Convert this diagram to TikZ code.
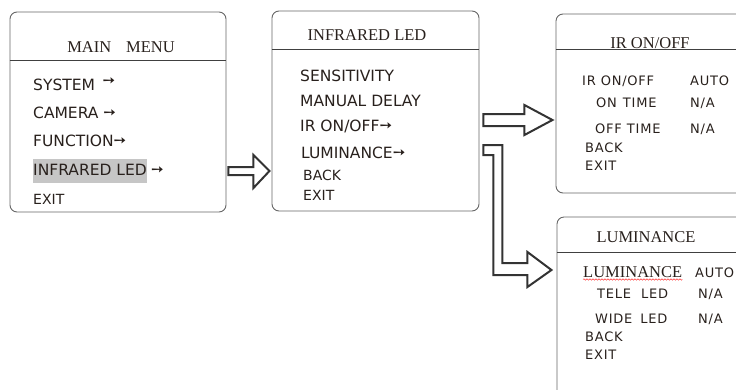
\documentclass[tikz,border=0pt]{standalone}
\usepackage{fontspec}
\setmainfont{Liberation Serif}
\setsansfont{DejaVu Sans}
\newfontfamily\symbfont{DejaVu Sans}
\usepackage{xcolor}
\usetikzlibrary{calc,decorations.pathmorphing}

\definecolor{menutext}{RGB}{40,32,28}
\newcommand{\subarrow}{\raisebox{0.5pt}{\symbfont\fontsize{15}{15}\selectfont ➙}}

\begin{document}
\begin{tikzpicture}[
  x=1pt, y=-1pt,
  menubox/.style={draw=black!60, line width=0.9pt, rounded corners=7pt},
  headline/.style={draw=black!75, line width=0.8pt},
  title/.style={font=\fontsize{16.5}{18}\selectfont, text=menutext, inner sep=0pt, anchor=base},
  item/.style={font=\sffamily\fontsize{15.5}{18}\selectfont, text=menutext, inner sep=0pt, anchor=base west},
  smallitem/.style={item, font=\sffamily\fontsize{13}{15}\selectfont\addfontfeature{LetterSpace=6}},
  exititem/.style={item, font=\sffamily\fontsize{14}{16}\selectfont},
  blockarrow/.style={draw=black!80, line width=2pt, line join=miter},
  spellmark/.style={draw=red!80, line width=0.5pt, decorate, decoration={snake, amplitude=0.7pt, segment length=3pt}},
]
\useasboundingbox (0,0) rectangle (736,389);
\clip (0,0) rectangle (736,389);

% main menu
\node[menubox, minimum width=216, minimum height=200] (mainmenu) at (118,112) {};
\draw[headline] (mainmenu.west |- 0,60) -- (mainmenu.east |- 0,60);
\node[title] (mainttl) at (121,52) {MAIN\hspace{0.9em}MENU};
\node[item] (sysitem) at (33,90) {SYSTEM\hspace{0.5em}\raisebox{4pt}{\subarrow}};
\node[item] (camitem) at (33,118) {CAMERA \subarrow};
\node[item] (funcitem) at (33,146) {FUNCTION\subarrow};
\node[item, fill=gray!45, text height=16pt, text depth=8pt, inner xsep=0pt] (ledmitem) at (33,175) {INFRARED LED\hspace{5pt}};
\node[item] (ledmarrow) at ($(ledmitem.base east)+(4,0)$) {\subarrow};
\node[exititem] (exitm) at (33,204) {EXIT};

% infrared led
\node[menubox, minimum width=207, minimum height=200] (irled) at (375.5,111) {};
\draw[headline] (irled.west |- 0,49) -- (irled.east |- 0,49);
\node[title] (irledttl) at (367,40) {INFRARED LED};
\node[item] (sensitem) at (300,81) {SENSITIVITY};
\node[item] (delayitem) at (300,106) {MANUAL DELAY};
\node[item] (iritem) at (300,131) {IR ON/OFF\subarrow};
\node[item] (lumiitem) at (301,158) {LUMINANCE\subarrow};
\node[exititem] (backir) at (303,180) {BACK};
\node[exititem] (exitir) at (303,200) {EXIT};

% ir on/off
\node[menubox, minimum width=210, minimum height=179] (ironoff) at (661,103.5) {};
\draw[headline] (ironoff.west |- 0,49) -- (ironoff.east |- 0,49);
\node[title] (ironoffttl) at (650,48) {IR ON/OFF};
\node[smallitem] (irmode) at (582,85) {IR ON/OFF};
\node[smallitem] (irmodeval) at (690,85) {AUTO};
\node[smallitem] (ontime) at (596,107) {ON\hspace{6pt}TIME};
\node[smallitem] (ontimeval) at (690,107) {N/A};
\node[smallitem] (offtime) at (595,133) {OFF\hspace{5pt}TIME};
\node[smallitem] (offtimeval) at (690,133) {N/A};
\node[smallitem] (backon) at (585,152) {BACK};
\node[smallitem] (exiton) at (585,170) {EXIT};

% luminance
\node[menubox, minimum width=210, minimum height=210] (lumin) at (662,322) {};
\draw[headline] (lumin.west |- 0,252) -- (lumin.east |- 0,252);
\node[title] (luminttl) at (646,242) {LUMINANCE};
\node[title, anchor=base west] (lummode) at (583,277) {LUMINANCE};
\draw[spellmark] ([yshift=-2.5pt]lummode.base west) -- ([yshift=-2.5pt]lummode.base east);
\node[smallitem] (lummodeval) at (695,277) {AUTO};
\node[smallitem] (teleled) at (597,298) {TELE\hspace{10pt}LED};
\node[smallitem] (teleledval) at (698,298) {N/A};
\node[smallitem] (wideled) at (595,323) {WIDE\hspace{8pt}LED};
\node[smallitem] (wideledval) at (698,323) {N/A};
\node[smallitem] (backlum) at (585,341) {BACK};
\node[smallitem] (exitlum) at (585,359) {EXIT};

% block arrows
\draw[blockarrow] (mainmenu.east |- 0,167) ++(2,0) -- ++(25,0) -- ++(0,-12) -- ++(16,16) -- ++(-16,17) -- ++(0,-13) -- ++(-25,0) -- cycle;
\draw[blockarrow] (irled.east |- 0,114) ++(4,0) -- ++(41,0) -- ++(0,-9) -- ++(28,15) -- ++(-28,15) -- ++(0,-9) -- ++(-41,0) -- cycle;
\draw[blockarrow] (irled.east |- 0,145) ++(4,0) -- ++(19,0) -- ++(0,118) -- ++(25,0) -- ++(0,-11) -- ++(24,18) -- ++(-24,17) -- ++(0,-12) -- ++(-34,0) -- ++(0,-120) -- ++(-10,0) -- cycle;
\end{tikzpicture}
\end{document}
